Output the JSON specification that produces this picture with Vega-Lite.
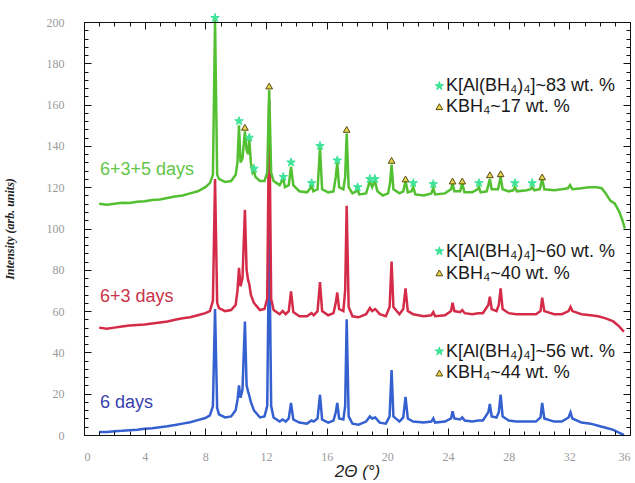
{
  "$schema": "https://vega.github.io/schema/vega-lite/v6.json",
  "width": 546,
  "height": 413,
  "autosize": "none",
  "padding": {"left": 84, "top": 22, "right": 5, "bottom": 48},
  "background": "white",
  "config": {"view": {"stroke": null}},
  "datasets": {
    "xrd": [
      {"s":"b","x":1,"y":1.5},{"s":"b","x":1.5,"y":1.5},{"s":"b","x":2,"y":1.8},{"s":"b","x":2.5,"y":2},{"s":"b","x":3,"y":2.3},{"s":"b","x":3.5,"y":2.6},{"s":"b","x":4,"y":3},{"s":"b","x":4.5,"y":3.3},{"s":"b","x":5,"y":3.8},{"s":"b","x":5.5,"y":4.2},{"s":"b","x":6,"y":4.8},{"s":"b","x":6.5,"y":5.5},{"s":"b","x":7,"y":6.2},{"s":"b","x":7.5,"y":7.2},{"s":"b","x":8,"y":8.2},{"s":"b","x":8.3,"y":9.5},{"s":"b","x":8.5,"y":14},{"s":"b","x":8.64,"y":61},{"s":"b","x":8.78,"y":13},{"s":"b","x":8.9,"y":10},{"s":"b","x":9.3,"y":8.5},{"s":"b","x":9.7,"y":9},{"s":"b","x":10,"y":12},{"s":"b","x":10.12,"y":17},{"s":"b","x":10.22,"y":24},{"s":"b","x":10.32,"y":18},{"s":"b","x":10.45,"y":22},{"s":"b","x":10.61,"y":55},{"s":"b","x":10.72,"y":24},{"s":"b","x":10.82,"y":21},{"s":"b","x":10.9,"y":19},{"s":"b","x":11,"y":16},{"s":"b","x":11.2,"y":12},{"s":"b","x":11.6,"y":8.5},{"s":"b","x":11.9,"y":9},{"s":"b","x":12.08,"y":14},{"s":"b","x":12.21,"y":100},{"s":"b","x":12.34,"y":14},{"s":"b","x":12.5,"y":8.5},{"s":"b","x":12.9,"y":6.5},{"s":"b","x":13.1,"y":7.5},{"s":"b","x":13.3,"y":6.5},{"s":"b","x":13.5,"y":8},{"s":"b","x":13.65,"y":15.5},{"s":"b","x":13.8,"y":7.5},{"s":"b","x":14.2,"y":6},{"s":"b","x":14.7,"y":5.5},{"s":"b","x":15,"y":7},{"s":"b","x":15.15,"y":6.5},{"s":"b","x":15.4,"y":8},{"s":"b","x":15.56,"y":19.5},{"s":"b","x":15.7,"y":7.5},{"s":"b","x":16.1,"y":6},{"s":"b","x":16.45,"y":7},{"s":"b","x":16.6,"y":11},{"s":"b","x":16.7,"y":15.5},{"s":"b","x":16.82,"y":8},{"s":"b","x":17.1,"y":7.5},{"s":"b","x":17.22,"y":14},{"s":"b","x":17.32,"y":56},{"s":"b","x":17.45,"y":9},{"s":"b","x":17.7,"y":5.5},{"s":"b","x":18.1,"y":5},{"s":"b","x":18.6,"y":6.5},{"s":"b","x":18.85,"y":9},{"s":"b","x":19,"y":8},{"s":"b","x":19.2,"y":8.5},{"s":"b","x":19.5,"y":6},{"s":"b","x":19.9,"y":5.5},{"s":"b","x":20.15,"y":9},{"s":"b","x":20.28,"y":31.5},{"s":"b","x":20.4,"y":9},{"s":"b","x":20.8,"y":6.5},{"s":"b","x":21.05,"y":8.5},{"s":"b","x":21.2,"y":18.5},{"s":"b","x":21.35,"y":8},{"s":"b","x":21.7,"y":6.5},{"s":"b","x":22.4,"y":6},{"s":"b","x":22.9,"y":6.5},{"s":"b","x":23.03,"y":8},{"s":"b","x":23.15,"y":6},{"s":"b","x":23.8,"y":6.5},{"s":"b","x":24.2,"y":8},{"s":"b","x":24.3,"y":11.5},{"s":"b","x":24.42,"y":8},{"s":"b","x":24.8,"y":7.5},{"s":"b","x":24.94,"y":8.5},{"s":"b","x":25.1,"y":7},{"s":"b","x":25.6,"y":6.5},{"s":"b","x":26,"y":7},{"s":"b","x":26.3,"y":7},{"s":"b","x":26.66,"y":11},{"s":"b","x":26.76,"y":15},{"s":"b","x":26.88,"y":9},{"s":"b","x":27.2,"y":8.5},{"s":"b","x":27.35,"y":11},{"s":"b","x":27.47,"y":19.5},{"s":"b","x":27.6,"y":9},{"s":"b","x":28,"y":7},{"s":"b","x":28.5,"y":6.5},{"s":"b","x":29.2,"y":6.5},{"s":"b","x":29.8,"y":6.5},{"s":"b","x":30.1,"y":8.5},{"s":"b","x":30.21,"y":15.5},{"s":"b","x":30.35,"y":8},{"s":"b","x":31,"y":6.5},{"s":"b","x":31.5,"y":6.5},{"s":"b","x":31.95,"y":8.5},{"s":"b","x":32.08,"y":11},{"s":"b","x":32.2,"y":8},{"s":"b","x":32.8,"y":6},{"s":"b","x":33.4,"y":5.5},{"s":"b","x":33.9,"y":4.5},{"s":"b","x":34.4,"y":3.5},{"s":"b","x":34.9,"y":2.5},{"s":"b","x":35.3,"y":1},{"s":"b","x":35.6,"y":0},
      {"s":"r","x":1,"y":52},{"s":"r","x":1.5,"y":51.5},{"s":"r","x":2,"y":52},{"s":"r","x":2.5,"y":52.5},{"s":"r","x":3,"y":53},{"s":"r","x":3.5,"y":53.3},{"s":"r","x":4,"y":53.5},{"s":"r","x":4.5,"y":54},{"s":"r","x":5,"y":54.5},{"s":"r","x":5.5,"y":55},{"s":"r","x":6,"y":55.8},{"s":"r","x":6.5,"y":56.5},{"s":"r","x":7,"y":57},{"s":"r","x":7.5,"y":58},{"s":"r","x":8,"y":59},{"s":"r","x":8.3,"y":60},{"s":"r","x":8.5,"y":65},{"s":"r","x":8.64,"y":124},{"s":"r","x":8.78,"y":64},{"s":"r","x":8.9,"y":61.5},{"s":"r","x":9.3,"y":60},{"s":"r","x":9.7,"y":60.5},{"s":"r","x":10,"y":63},{"s":"r","x":10.12,"y":70},{"s":"r","x":10.22,"y":81},{"s":"r","x":10.32,"y":72},{"s":"r","x":10.45,"y":76},{"s":"r","x":10.61,"y":109},{"s":"r","x":10.72,"y":80},{"s":"r","x":10.82,"y":75},{"s":"r","x":10.9,"y":73},{"s":"r","x":11,"y":68},{"s":"r","x":11.2,"y":64},{"s":"r","x":11.6,"y":60.5},{"s":"r","x":11.9,"y":61},{"s":"r","x":12.08,"y":66},{"s":"r","x":12.21,"y":162},{"s":"r","x":12.34,"y":66},{"s":"r","x":12.5,"y":60.5},{"s":"r","x":12.9,"y":58.5},{"s":"r","x":13.1,"y":60},{"s":"r","x":13.3,"y":58.5},{"s":"r","x":13.5,"y":60},{"s":"r","x":13.65,"y":69.5},{"s":"r","x":13.8,"y":59.5},{"s":"r","x":14.2,"y":57.5},{"s":"r","x":14.7,"y":57.5},{"s":"r","x":15,"y":59},{"s":"r","x":15.15,"y":58},{"s":"r","x":15.4,"y":60},{"s":"r","x":15.56,"y":74},{"s":"r","x":15.7,"y":60},{"s":"r","x":16.1,"y":58},{"s":"r","x":16.45,"y":59},{"s":"r","x":16.6,"y":64},{"s":"r","x":16.7,"y":69},{"s":"r","x":16.82,"y":61},{"s":"r","x":17.1,"y":60},{"s":"r","x":17.22,"y":70},{"s":"r","x":17.32,"y":111},{"s":"r","x":17.45,"y":62},{"s":"r","x":17.7,"y":57.5},{"s":"r","x":18.1,"y":57},{"s":"r","x":18.6,"y":58.5},{"s":"r","x":18.85,"y":61.5},{"s":"r","x":19,"y":60},{"s":"r","x":19.2,"y":61},{"s":"r","x":19.5,"y":58.5},{"s":"r","x":19.9,"y":57.5},{"s":"r","x":20.15,"y":62},{"s":"r","x":20.28,"y":84},{"s":"r","x":20.4,"y":62},{"s":"r","x":20.8,"y":58.5},{"s":"r","x":21.05,"y":61},{"s":"r","x":21.2,"y":71},{"s":"r","x":21.35,"y":60},{"s":"r","x":21.7,"y":58.5},{"s":"r","x":22.4,"y":57.5},{"s":"r","x":22.9,"y":58},{"s":"r","x":23.03,"y":59.5},{"s":"r","x":23.15,"y":57.5},{"s":"r","x":23.8,"y":58},{"s":"r","x":24.2,"y":60},{"s":"r","x":24.3,"y":64},{"s":"r","x":24.42,"y":60},{"s":"r","x":24.8,"y":59.5},{"s":"r","x":24.94,"y":60.5},{"s":"r","x":25.1,"y":59},{"s":"r","x":25.6,"y":58.5},{"s":"r","x":26,"y":59},{"s":"r","x":26.3,"y":59},{"s":"r","x":26.66,"y":63},{"s":"r","x":26.76,"y":67},{"s":"r","x":26.88,"y":61},{"s":"r","x":27.2,"y":60},{"s":"r","x":27.35,"y":63},{"s":"r","x":27.47,"y":71},{"s":"r","x":27.6,"y":61},{"s":"r","x":28,"y":59},{"s":"r","x":28.5,"y":58.5},{"s":"r","x":29.2,"y":58.5},{"s":"r","x":29.8,"y":58.5},{"s":"r","x":30.1,"y":60},{"s":"r","x":30.21,"y":66.5},{"s":"r","x":30.35,"y":60},{"s":"r","x":31,"y":58.5},{"s":"r","x":31.5,"y":58.5},{"s":"r","x":31.95,"y":60},{"s":"r","x":32.08,"y":62},{"s":"r","x":32.2,"y":60},{"s":"r","x":32.8,"y":58.5},{"s":"r","x":33.4,"y":58},{"s":"r","x":33.9,"y":57.5},{"s":"r","x":34.4,"y":56.5},{"s":"r","x":34.9,"y":55},{"s":"r","x":35.3,"y":52.5},{"s":"r","x":35.6,"y":50},
      {"s":"g","x":1,"y":112},{"s":"g","x":1.5,"y":111.5},{"s":"g","x":2,"y":112},{"s":"g","x":2.5,"y":112.5},{"s":"g","x":3,"y":112.3},{"s":"g","x":3.5,"y":113},{"s":"g","x":4,"y":113.2},{"s":"g","x":4.5,"y":113.8},{"s":"g","x":5,"y":114},{"s":"g","x":5.5,"y":114.8},{"s":"g","x":6,"y":115.5},{"s":"g","x":6.5,"y":116},{"s":"g","x":7,"y":117},{"s":"g","x":7.5,"y":118},{"s":"g","x":8,"y":120},{"s":"g","x":8.3,"y":122},{"s":"g","x":8.5,"y":126},{"s":"g","x":8.64,"y":201},{"s":"g","x":8.78,"y":126},{"s":"g","x":8.9,"y":124},{"s":"g","x":9.3,"y":122.5},{"s":"g","x":9.7,"y":123},{"s":"g","x":10,"y":126},{"s":"g","x":10.12,"y":132},{"s":"g","x":10.22,"y":150},{"s":"g","x":10.32,"y":132},{"s":"g","x":10.45,"y":134},{"s":"g","x":10.61,"y":147},{"s":"g","x":10.72,"y":138},{"s":"g","x":10.82,"y":136},{"s":"g","x":10.9,"y":143},{"s":"g","x":11,"y":132},{"s":"g","x":11.12,"y":127},{"s":"g","x":11.21,"y":128},{"s":"g","x":11.3,"y":125},{"s":"g","x":11.6,"y":123},{"s":"g","x":11.9,"y":123},{"s":"g","x":12.08,"y":127},{"s":"g","x":12.21,"y":167},{"s":"g","x":12.34,"y":127},{"s":"g","x":12.5,"y":123},{"s":"g","x":12.9,"y":121},{"s":"g","x":13.05,"y":123},{"s":"g","x":13.14,"y":124},{"s":"g","x":13.25,"y":120},{"s":"g","x":13.5,"y":121},{"s":"g","x":13.65,"y":130},{"s":"g","x":13.8,"y":121},{"s":"g","x":14.2,"y":118},{"s":"g","x":14.7,"y":117.5},{"s":"g","x":14.92,"y":119.5},{"s":"g","x":15.01,"y":121},{"s":"g","x":15.12,"y":118},{"s":"g","x":15.4,"y":119},{"s":"g","x":15.56,"y":139},{"s":"g","x":15.7,"y":119},{"s":"g","x":16.1,"y":117.5},{"s":"g","x":16.45,"y":118},{"s":"g","x":16.6,"y":125},{"s":"g","x":16.7,"y":132},{"s":"g","x":16.82,"y":120},{"s":"g","x":17.1,"y":119},{"s":"g","x":17.22,"y":125},{"s":"g","x":17.32,"y":146},{"s":"g","x":17.45,"y":120},{"s":"g","x":17.7,"y":117},{"s":"g","x":17.95,"y":118},{"s":"g","x":18.04,"y":119},{"s":"g","x":18.15,"y":116.5},{"s":"g","x":18.6,"y":117},{"s":"g","x":18.85,"y":123},{"s":"g","x":19,"y":120},{"s":"g","x":19.18,"y":123},{"s":"g","x":19.35,"y":118},{"s":"g","x":19.7,"y":116},{"s":"g","x":20.05,"y":117},{"s":"g","x":20.18,"y":122},{"s":"g","x":20.28,"y":131},{"s":"g","x":20.4,"y":119},{"s":"g","x":20.8,"y":117},{"s":"g","x":21.05,"y":118},{"s":"g","x":21.2,"y":123},{"s":"g","x":21.35,"y":117.5},{"s":"g","x":21.6,"y":118},{"s":"g","x":21.71,"y":120},{"s":"g","x":21.85,"y":116.5},{"s":"g","x":22.4,"y":116},{"s":"g","x":22.9,"y":117},{"s":"g","x":23.03,"y":119.5},{"s":"g","x":23.15,"y":116.5},{"s":"g","x":23.8,"y":117},{"s":"g","x":24.2,"y":119},{"s":"g","x":24.3,"y":122},{"s":"g","x":24.42,"y":118},{"s":"g","x":24.8,"y":118},{"s":"g","x":24.94,"y":122},{"s":"g","x":25.08,"y":117.5},{"s":"g","x":25.6,"y":117.5},{"s":"g","x":25.95,"y":119},{"s":"g","x":26.04,"y":120},{"s":"g","x":26.15,"y":117.5},{"s":"g","x":26.55,"y":118},{"s":"g","x":26.66,"y":121},{"s":"g","x":26.76,"y":124},{"s":"g","x":26.88,"y":119},{"s":"g","x":27.3,"y":119},{"s":"g","x":27.47,"y":125},{"s":"g","x":27.6,"y":119},{"s":"g","x":28,"y":118},{"s":"g","x":28.3,"y":118.5},{"s":"g","x":28.41,"y":120},{"s":"g","x":28.55,"y":118},{"s":"g","x":29.2,"y":118.5},{"s":"g","x":29.45,"y":119},{"s":"g","x":29.55,"y":120},{"s":"g","x":29.7,"y":118.5},{"s":"g","x":30.05,"y":119},{"s":"g","x":30.21,"y":124},{"s":"g","x":30.35,"y":119},{"s":"g","x":31,"y":118.5},{"s":"g","x":31.5,"y":119},{"s":"g","x":31.9,"y":119.5},{"s":"g","x":32.05,"y":121},{"s":"g","x":32.2,"y":119},{"s":"g","x":32.8,"y":119.5},{"s":"g","x":33.3,"y":120},{"s":"g","x":33.8,"y":120},{"s":"g","x":34.13,"y":119.5},{"s":"g","x":34.4,"y":117},{"s":"g","x":34.7,"y":113.5},{"s":"g","x":35,"y":112},{"s":"g","x":35.3,"y":108},{"s":"g","x":35.5,"y":104},{"s":"g","x":35.66,"y":100}
    ],
    "markers": [
      {"m":"star","x":8.64,"y":202},{"m":"star","x":10.22,"y":152},{"m":"star","x":10.9,"y":144},{"m":"star","x":11.21,"y":129},{"m":"star","x":13.14,"y":125},{"m":"star","x":13.65,"y":132},{"m":"star","x":15.01,"y":122},{"m":"star","x":15.56,"y":140},{"m":"star","x":16.7,"y":133},{"m":"star","x":18.04,"y":120},{"m":"star","x":18.85,"y":124},{"m":"star","x":19.18,"y":124},{"m":"star","x":21.71,"y":122},{"m":"star","x":23.03,"y":121.5},{"m":"star","x":26.04,"y":122},{"m":"star","x":28.41,"y":122},{"m":"star","x":29.55,"y":122},
      {"m":"star","x":23.43,"y":169},{"m":"star","x":23.43,"y":89},{"m":"star","x":23.43,"y":40.5},
      {"m":"tri","x":10.61,"y":149},{"m":"tri","x":12.21,"y":169},{"m":"tri","x":17.32,"y":148},{"m":"tri","x":20.28,"y":133},{"m":"tri","x":21.2,"y":124},{"m":"tri","x":24.3,"y":123},{"m":"tri","x":24.94,"y":123},{"m":"tri","x":26.76,"y":126},{"m":"tri","x":27.47,"y":126.5},{"m":"tri","x":30.21,"y":125},
      {"m":"tri","x":23.43,"y":159},{"m":"tri","x":23.43,"y":78.5},{"m":"tri","x":23.43,"y":30}
    ],
    "texts": [
      {"x":1.05,"y":128.3,"t":"6+3+5 days","c":"g"},
      {"x":1.05,"y":66.8,"t":"6+3 days","c":"r"},
      {"x":1.05,"y":15.5,"t":"6 days","c":"b"},
      {"x":23.86,"y":168.8,"t":"K[Al(BH₄)₄]~83 wt. %","c":"k"},
      {"x":23.86,"y":158.6,"t":"KBH₄~17 wt. %","c":"k"},
      {"x":23.86,"y":88.6,"t":"K[Al(BH₄)₄]~60 wt. %","c":"k"},
      {"x":23.86,"y":78.2,"t":"KBH₄~40 wt. %","c":"k"},
      {"x":23.86,"y":40.3,"t":"K[Al(BH₄)₄]~56 wt. %","c":"k"},
      {"x":23.86,"y":29.8,"t":"KBH₄~44 wt. %","c":"k"}
    ]
  },
  "resolve": {
    "axis": {"x": "independent", "y": "independent"},
    "scale": {"fill": "independent", "color": "independent", "stroke": "independent"}
  },
  "layer": [
    {
      "data": {"name": "xrd"},
      "mark": {"type": "line", "strokeWidth": 2.5},
      "encoding": {
        "x": {
          "field": "x", "type": "quantitative",
          "scale": {"domain": [0, 36], "nice": false, "zero": false},
          "axis": {
            "orient": "bottom",
            "zindex": 1,
            "values": [0,1,2,3,4,5,6,7,8,9,10,11,12,13,14,15,16,17,18,19,20,21,22,23,24,25,26,27,28,29,30,31,32,33,34,35,36],
            "labelExpr": "datum.value % 4 === 0 ? datum.label : ''",
            "tickSize": {"condition": {"test": "datum.value % 4 === 0", "value": -7}, "value": -4},
            "tickColor": "#111",
            "domain": true, "domainColor": "#111",
            "grid": false,
            "labelColor": "#9a9a9a", "labelFont": "Liberation Serif", "labelFontSize": 12,
            "labelPadding": 23,
            "title": "2Θ (°)",
            "titleFont": "Liberation Sans", "titleFontSize": 17, "titleFontStyle": "italic", "titleFontWeight": "normal",
            "titleColor": "#222", "titlePadding": 1
          }
        },
        "y": {
          "field": "y", "type": "quantitative",
          "scale": {"domain": [0, 200], "nice": false, "zero": false},
          "axis": {
            "orient": "left",
            "zindex": 1,
            "values": [0,4,8,12,16,20,24,28,32,36,40,44,48,52,56,60,64,68,72,76,80,84,88,92,96,100,104,108,112,116,120,124,128,132,136,140,144,148,152,156,160,164,168,172,176,180,184,188,192,196,200],
            "labelExpr": "datum.value % 20 === 0 ? datum.label : ''",
            "tickSize": {"condition": {"test": "datum.value % 20 === 0", "value": -7}, "value": -4},
            "tickColor": "#111",
            "domain": true, "domainColor": "#111",
            "grid": false,
            "labelColor": "#9a9a9a", "labelFont": "Liberation Serif", "labelFontSize": 12,
            "labelPadding": 27,
            "title": "Intensity (arb. units)",
            "titleFont": "Liberation Serif", "titleFontSize": 12, "titleFontStyle": "italic", "titleFontWeight": "bold",
            "titleColor": "#222", "titlePadding": 30
          }
        },
        "color": {
          "field": "s", "type": "nominal",
          "scale": {"domain": ["b", "r", "g"], "range": ["#3560d0", "#d42c48", "#52c030"]},
          "legend": null
        }
      }
    },
    {
      "data": {"name": "markers"},
      "mark": {"type": "point", "filled": true, "opacity": 1, "strokeWidth": 1},
      "encoding": {
        "x": {
          "field": "x", "type": "quantitative",
          "axis": {
            "orient": "top",
            "zindex": 1,
            "values": [0,1,2,3,4,5,6,7,8,9,10,11,12,13,14,15,16,17,18,19,20,21,22,23,24,25,26,27,28,29,30,31,32,33,34,35,36],
            "labels": false,
            "tickSize": {"condition": {"test": "datum.value % 4 === 0", "value": -7}, "value": -4},
            "tickColor": "#111",
            "domain": true, "domainColor": "#111",
            "grid": false, "title": null
          }
        },
        "y": {
          "field": "y", "type": "quantitative",
          "axis": {
            "orient": "right",
            "zindex": 1,
            "values": [0,4,8,12,16,20,24,28,32,36,40,44,48,52,56,60,64,68,72,76,80,84,88,92,96,100,104,108,112,116,120,124,128,132,136,140,144,148,152,156,160,164,168,172,176,180,184,188,192,196,200],
            "labels": false,
            "tickSize": {"condition": {"test": "datum.value % 20 === 0", "value": -7}, "value": -4},
            "tickColor": "#111",
            "domain": true, "domainColor": "#111",
            "grid": false, "title": null
          }
        },
        "shape": {
          "field": "m", "type": "nominal",
          "scale": {"domain": ["star", "tri"], "range": ["M0,-1L0.2245,-0.309L0.9511,-0.309L0.3633,0.118L0.5878,0.809L0,0.382L-0.5878,0.809L-0.3633,0.118L-0.9511,-0.309L-0.2245,-0.309Z", "triangle-up"]},
          "legend": null
        },
        "fill": {
          "field": "m", "type": "nominal",
          "scale": {"domain": ["star", "tri"], "range": ["#3fe39a", "#e2d44c"]},
          "legend": null
        },
        "stroke": {
          "field": "m", "type": "nominal",
          "scale": {"domain": ["star", "tri"], "range": ["#3fe39a", "#5b4a12"]},
          "legend": null
        },
        "size": {
          "field": "m", "type": "ordinal",
          "scale": {"domain": ["star", "tri"], "range": [80, 45]},
          "legend": null
        }
      }
    },
    {
      "data": {"name": "texts"},
      "mark": {"type": "text", "align": "left", "baseline": "middle", "font": "Liberation Sans", "fontSize": 18},
      "encoding": {
        "x": {"field": "x", "type": "quantitative", "axis": null},
        "y": {"field": "y", "type": "quantitative", "axis": null},
        "text": {"field": "t"},
        "fill": {
          "field": "c", "type": "nominal",
          "scale": {"domain": ["g", "r", "b", "k"], "range": ["#63c64a", "#c8344a", "#3a3fae", "#1a1a1a"]},
          "legend": null
        }
      }
    }
  ]
}
